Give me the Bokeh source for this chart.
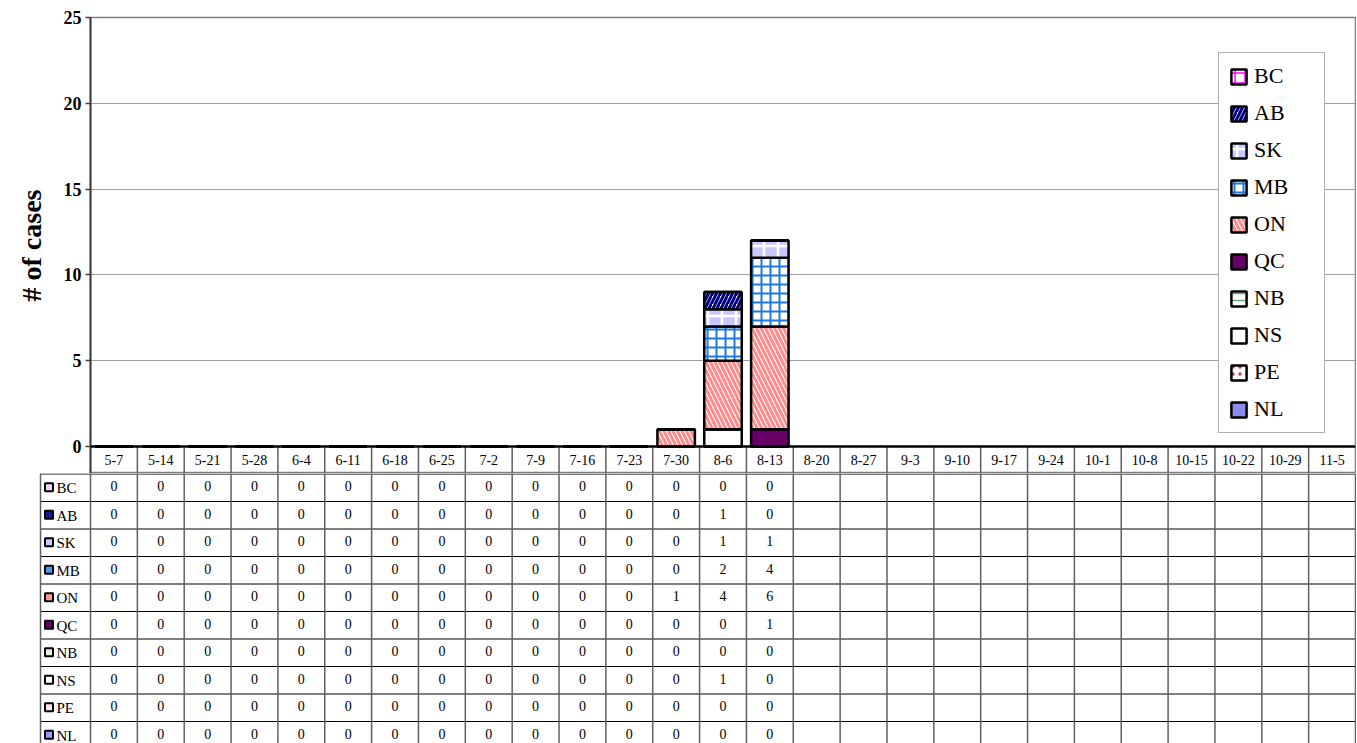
from bokeh.plotting import figure
from bokeh.models import (ColumnDataSource, FactorRange, Range1d, Legend, LegendItem,
                          Span, FixedTicker)
from bokeh.embed import file_html
from bokeh.resources import INLINE
from bokeh.core.properties import value

# ---------------- data ----------------
weeks = ["5-7", "5-14", "5-21", "5-28", "6-4", "6-11", "6-18", "6-25", "7-2", "7-9",
         "7-16", "7-23", "7-30", "8-6", "8-13", "8-20", "8-27", "9-3", "9-10", "9-17",
         "9-24", "10-1", "10-8", "10-15", "10-22", "10-29", "11-5"]
_ = None
BC = [0, 0, 0, 0, 0, 0, 0, 0, 0, 0, 0, 0, 0, 0, 0, _, _, _, _, _, _, _, _, _, _, _, _]
AB = [0, 0, 0, 0, 0, 0, 0, 0, 0, 0, 0, 0, 0, 1, 0, _, _, _, _, _, _, _, _, _, _, _, _]
SK = [0, 0, 0, 0, 0, 0, 0, 0, 0, 0, 0, 0, 0, 1, 1, _, _, _, _, _, _, _, _, _, _, _, _]
MB = [0, 0, 0, 0, 0, 0, 0, 0, 0, 0, 0, 0, 0, 2, 4, _, _, _, _, _, _, _, _, _, _, _, _]
ON = [0, 0, 0, 0, 0, 0, 0, 0, 0, 0, 0, 0, 1, 4, 6, _, _, _, _, _, _, _, _, _, _, _, _]
QC = [0, 0, 0, 0, 0, 0, 0, 0, 0, 0, 0, 0, 0, 0, 1, _, _, _, _, _, _, _, _, _, _, _, _]
NB = [0, 0, 0, 0, 0, 0, 0, 0, 0, 0, 0, 0, 0, 0, 0, _, _, _, _, _, _, _, _, _, _, _, _]
NS = [0, 0, 0, 0, 0, 0, 0, 0, 0, 0, 0, 0, 0, 1, 0, _, _, _, _, _, _, _, _, _, _, _, _]
PE = [0, 0, 0, 0, 0, 0, 0, 0, 0, 0, 0, 0, 0, 0, 0, _, _, _, _, _, _, _, _, _, _, _, _]
NL = [0, 0, 0, 0, 0, 0, 0, 0, 0, 0, 0, 0, 0, 0, 0, _, _, _, _, _, _, _, _, _, _, _, _]
y_ticks = [0, 5, 10, 15, 20, 25]
y_label = "# of cases"

# stacking order: bottom -> top
stack_names = ["NL", "PE", "NS", "NB", "QC", "ON", "MB", "SK", "AB", "BC"]
series = {"NL": NL, "PE": PE, "NS": NS, "NB": NB, "QC": QC,
          "ON": ON, "MB": MB, "SK": SK, "AB": AB, "BC": BC}
# table / legend order: top -> bottom
table_names = list(reversed(stack_names))

# ---------------- styles ----------------
SERIF = "Liberation Serif"
sty = {
    #       fill       hatch  hatch color weight scale  table icon fill
    "NL": ("#8c8cf0", " ",   "#ffffff", 1.0, 8,  "#9999ff"),
    "PE": ("#ffffff", ".",   "#cc3366", 1.5, 7,  "#ffe6ee"),
    "NS": ("#ffffff", " ",   "#ffffff", 1.0, 8,  "#ffffff"),
    "NB": ("#ffffff", "-",   "#66aa88", 1.5, 7,  "#ddeedd"),
    "QC": ("#660066", " ",   "#660066", 1.0, 8,  "#660066"),
    "ON": ("#ffffff", "\\",  "#ff8c8c", 3.0, 9,  "#ff9999"),
    "MB": ("#ffffff", "+",   "#1f7ae0", 2.0, 9,  "#4a9af0"),
    "SK": ("#c8c8ff", "+",   "#ffffff", 2.5, 14, "#ccccff"),
    "AB": ("#ffffff", "/",   "#000080", 3.0, 8,  "#1a1a99"),
    "BC": ("#ffffff", "+",   "#ff00ff", 1.5, 10, "#ffccff"),
}

FRAME_L = 90
FRAME_W = 1265
FRAME_TOP = 17
PLOT_H = 429          # 0..25
HEAD_PX = 27          # category header row under the chart
ppu = FRAME_W / len(weeks)
upx = 25 / PLOT_H     # y units per pixel
n = len(weeks)

# ---------------- chart (with header row) ----------------
src = {"weeks": weeks}
for nm in stack_names:
    src[nm] = [float("nan") if v is None else v for v in series[nm]]
source = ColumnDataSource(src)

ybot = -HEAD_PX * upx
p1 = figure(x_range=FactorRange(*weeks, range_padding=0), y_range=Range1d(ybot, 25),
            frame_width=FRAME_W, frame_height=PLOT_H + HEAD_PX,
            min_border_left=FRAME_L, min_border_right=1, min_border_top=FRAME_TOP,
            min_border_bottom=0, x_axis_location=None,
            output_backend="svg", toolbar_location=None)
p1.background_fill_color = "white"
p1.border_fill_color = "white"
p1.outline_line_color = "#808080"
p1.outline_line_width = 1.5

rends = p1.vbar_stack(stack_names, x="weeks", width=0.8, source=source,
                      fill_color=[sty[k][0] for k in stack_names],
                      hatch_pattern=[sty[k][1] for k in stack_names],
                      hatch_color=[sty[k][2] for k in stack_names],
                      hatch_weight=[sty[k][3] for k in stack_names],
                      hatch_scale=[sty[k][4] for k in stack_names],
                      line_color="black", line_width=2.5)

p1.yaxis.ticker = FixedTicker(ticks=y_ticks)
p1.ygrid.ticker = FixedTicker(ticks=y_ticks)
p1.ygrid.grid_line_color = "#a0a0a0"
p1.ygrid.grid_line_width = 1
p1.xgrid.visible = False
ax = p1.yaxis[0]
ax.axis_label = y_label
ax.axis_label_text_font = SERIF
ax.axis_label_text_font_style = "bold"
ax.axis_label_text_font_size = "28px"
ax.axis_label_text_color = "black"
ax.axis_label_standoff = 14
ax.major_label_text_font = SERIF
ax.major_label_text_font_style = "bold"
ax.major_label_text_font_size = "18px"
ax.major_label_text_color = "black"
ax.major_label_standoff = 4
ax.axis_line_color = "#404040"
ax.axis_line_width = 2
ax.major_tick_line_color = "#404040"
ax.major_tick_line_width = 1.5
ax.major_tick_out = 5
ax.major_tick_in = 0
ax.minor_tick_line_color = None

p1.add_layout(Span(location=0, dimension="width", line_color="black", line_width=2.5))

# header: category dividers and labels
bx = list(range(1, n))
p1.segment(x0=bx, x1=bx, y0=[ybot] * len(bx), y1=[0] * len(bx),
           line_color="#606060", line_width=1.5)
p1.text(x=weeks, y=[ybot / 2] * n, text=weeks,
        text_font=value(SERIF), text_font_size="14px", text_color="black",
        text_align="center", text_baseline="middle")

items = [LegendItem(label=k, renderers=[r]) for k, r in zip(stack_names, rends)]
items = list(reversed(items))
legend = Legend(items=items, location=(1128, 13 + HEAD_PX), orientation="vertical",
                label_text_font=SERIF, label_text_font_size="22px",
                label_text_color="black", label_height=24, label_width=60,
                glyph_width=19, glyph_height=19, label_standoff=6,
                spacing=11, padding=10, margin=0,
                border_line_color="#606060", border_line_width=1.5,
                background_fill_color="white", background_fill_alpha=1)
p1.add_layout(legend)

# ---------------- data table ----------------
LAB_PX = 50
ROW_PX = 27.5
TABLE_H = 743 - (FRAME_TOP + PLOT_H + HEAD_PX)
x0 = -(LAB_PX + 2) / ppu
x1 = n + 1 / ppu
p2 = figure(x_range=Range1d(x0, x1), y_range=Range1d(TABLE_H, 0),
            frame_width=FRAME_W + LAB_PX + 3, frame_height=TABLE_H,
            min_border_left=FRAME_L - LAB_PX - 2, min_border_right=0,
            min_border_top=0, min_border_bottom=0,
            x_axis_location=None, y_axis_location=None,
            output_backend="svg", toolbar_location=None)
p2.grid.visible = False
p2.outline_line_color = None
p2.background_fill_color = "white"
p2.border_fill_color = "white"

lab_left = -LAB_PX / ppu
nrows = len(table_names)

hy = [0.5 + k * ROW_PX for k in range(nrows + 1) if k * ROW_PX < TABLE_H]
p2.segment(x0=[lab_left] * len(hy), x1=[n] * len(hy), y0=hy, y1=hy,
           line_color="black", line_width=1)
vx = [lab_left] + list(range(n + 1))
p2.segment(x0=vx, x1=vx, y0=[0] * len(vx), y1=[TABLE_H] * len(vx),
           line_color="#606060", line_width=1.5)

row_cy = [(k + 0.5) * ROW_PX for k in range(nrows)]
p2.rect(x=[lab_left + 8.5 / ppu] * nrows, y=row_cy, width=8, height=8,
        width_units="screen", height_units="screen",
        fill_color=[sty[k][5] for k in table_names], line_color="black", line_width=2)
p2.text(x=[lab_left + 16 / ppu] * nrows, y=[c + 1 for c in row_cy], text=table_names,
        text_font=value(SERIF), text_font_size="15px", text_color="black",
        text_align="left", text_baseline="middle")

tx, ty, tt = [], [], []
for k, nm in enumerate(table_names):
    for i, v in enumerate(series[nm]):
        if v is not None:
            tx.append(i + 0.5)
            ty.append(row_cy[k] - 1)
            tt.append(str(v))
p2.text(x=tx, y=ty, text=tt, text_font=value(SERIF), text_font_size="14px",
        text_color="black", text_align="center", text_baseline="middle")

open("out.html", "w").write(file_html([p1, p2], INLINE))
